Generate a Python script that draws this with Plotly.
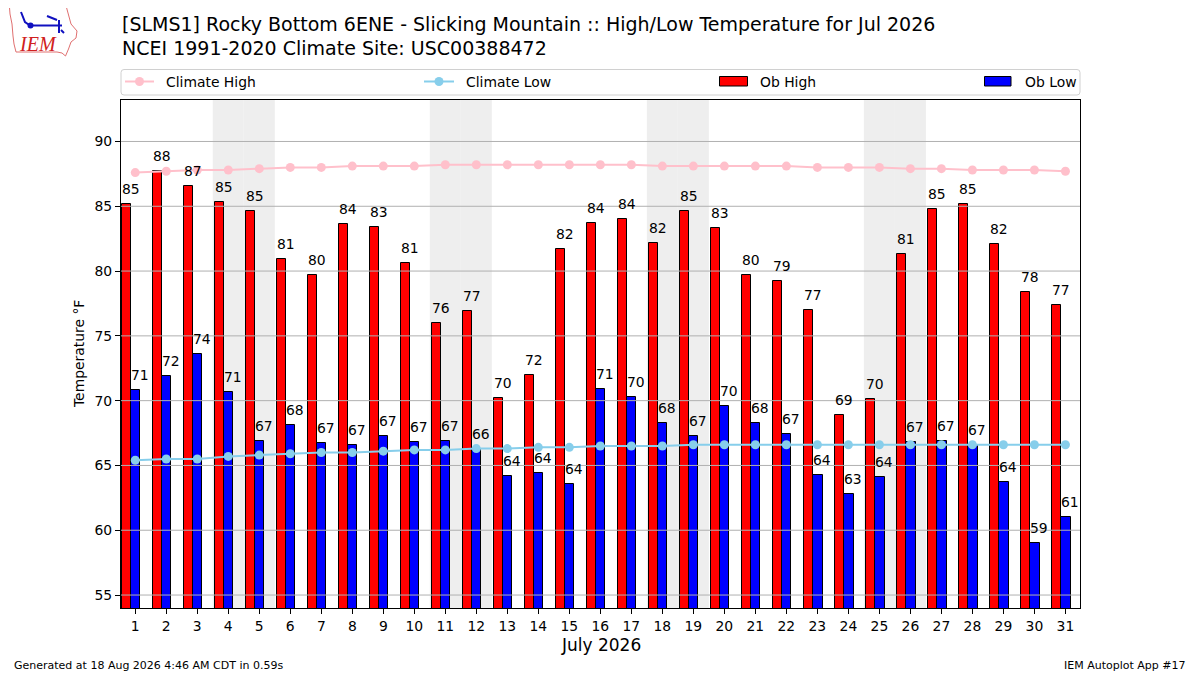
import plotly.graph_objects as go

# ---------------- data ----------------
days = list(range(1, 32))
ob_high = [85.2, 87.7, 86.6, 85.3, 84.6, 80.9, 79.7, 83.6, 83.4, 80.6,
           76.0, 76.9, 70.2, 72.0, 81.7, 83.7, 84.0, 82.2, 84.6, 83.3,
           79.7, 79.2, 77.0, 68.9, 70.1, 81.3, 84.8, 85.2, 82.1, 78.4, 77.4]
ob_low = [70.8, 71.9, 73.6, 70.7, 66.9, 68.1, 66.7, 66.6, 67.3, 66.8,
          66.9, 66.3, 64.2, 64.4, 63.6, 70.9, 70.3, 68.3, 67.3, 69.6,
          68.3, 67.4, 64.3, 62.8, 64.1, 66.8, 66.9, 66.6, 63.7, 59.0, 61.0]
clim_high = [87.6, 87.7, 87.8, 87.8, 87.9, 88.0, 88.0, 88.1, 88.1, 88.1,
             88.2, 88.2, 88.2, 88.2, 88.2, 88.2, 88.2, 88.1, 88.1, 88.1,
             88.1, 88.1, 88.0, 88.0, 88.0, 87.9, 87.9, 87.8, 87.8, 87.8, 87.7]
clim_low = [65.4, 65.5, 65.5, 65.7, 65.8, 65.9, 66.0, 66.0, 66.1, 66.2,
            66.2, 66.3, 66.3, 66.4, 66.4, 66.5, 66.5, 66.5, 66.6, 66.6,
            66.6, 66.6, 66.6, 66.6, 66.6, 66.6, 66.6, 66.6, 66.6, 66.6, 66.6]
weekend_days = [4, 5, 11, 12, 18, 19, 25, 26]
y_ticks = [55, 60, 65, 70, 75, 80, 85, 90]

title1 = "[SLMS1] Rocky Bottom 6ENE - Slicking Mountain :: High/Low Temperature for Jul 2026"
title2 = "NCEI 1991-2020 Climate Site: USC00388472"
xlabel = "July 2026"
ylabel = "Temperature °F"
footer_left = "Generated at 18 Aug 2026 4:46 AM CDT in 0.59s"
footer_right = "IEM Autoplot App #17"

# ---------------- layout geometry ----------------
# the page body has an 8px margin, so the figure is shifted by that amount
OFF = 8
WIDTH, HEIGHT = 1200 - OFF, 675 - OFF
# plot area in screen (reference) pixels
L, R, T, B = 121, 1080, 100, 608
PW, PH = R - L, B - T
FONT = "DejaVu Sans"
FS = 13.9


def px(x):
    return (x - L) / PW


def py(y):
    return (B - y) / PH


fig = go.Figure()

BW = 0.3
fig.add_trace(go.Bar(x=[d - 0.285 for d in days], y=ob_high, width=BW,
                     marker=dict(color="#ff0000", line=dict(color="black", width=1)),
                     name="Ob High", showlegend=False))
fig.add_trace(go.Bar(x=[d + 0.015 for d in days], y=ob_low, width=BW,
                     marker=dict(color="#0000ff", line=dict(color="black", width=1)),
                     name="Ob Low", showlegend=False))
fig.add_trace(go.Scatter(x=days, y=clim_high, mode="lines+markers",
                         line=dict(color="pink", width=2),
                         marker=dict(color="pink", size=9),
                         name="Climate High", showlegend=False))
fig.add_trace(go.Scatter(x=days, y=clim_low, mode="lines+markers",
                         line=dict(color="skyblue", width=2),
                         marker=dict(color="skyblue", size=9),
                         name="Climate Low", showlegend=False))

shapes = []
annotations = []

# weekend shading
for d in weekend_days:
    shapes.append(dict(type="rect", xref="x", yref="paper", x0=d - 0.5, x1=d + 0.5,
                       y0=0, y1=1, fillcolor="#eeeeee", line=dict(width=0), layer="below"))
# gridlines above bars
for t in y_ticks:
    shapes.append(dict(type="line", xref="paper", yref="y", x0=0, x1=1, y0=t, y1=t,
                       line=dict(color="#b0b0b0", width=1), layer="above"))

# bar value labels
for d, v in zip(days, ob_high):
    annotations.append(dict(x=d - 0.14, y=v, xref="x", yref="y", text=f"{v:.0f}",
                            showarrow=False, yanchor="bottom", xanchor="center",
                            yshift=5, font=dict(family=FONT, size=FS, color="black")))
for d, v in zip(days, ob_low):
    annotations.append(dict(x=d + 0.16, y=v, xref="x", yref="y", text=f"{v:.0f}",
                            showarrow=False, yanchor="bottom", xanchor="center",
                            yshift=5, font=dict(family=FONT, size=FS, color="black")))

# titles
annotations.append(dict(x=px(120), y=py(24), xref="paper", yref="paper", text=title1,
                        showarrow=False, xanchor="left", yanchor="middle",
                        font=dict(family=FONT, size=19, color="black")))
annotations.append(dict(x=px(120), y=py(48), xref="paper", yref="paper", text=title2,
                        showarrow=False, xanchor="left", yanchor="middle",
                        font=dict(family=FONT, size=19, color="black")))
# axis titles
annotations.append(dict(x=px(600.5), y=py(645), xref="paper", yref="paper", text=xlabel,
                        showarrow=False, xanchor="center", yanchor="middle",
                        font=dict(family=FONT, size=17, color="black")))
annotations.append(dict(x=px(79), y=py(354), xref="paper", yref="paper", text=ylabel,
                        showarrow=False, xanchor="center", yanchor="middle", textangle=-90,
                        font=dict(family=FONT, size=FS, color="black")))
# footers
annotations.append(dict(x=px(12), y=py(665), xref="paper", yref="paper", text=footer_left,
                        showarrow=False, xanchor="left", yanchor="middle",
                        font=dict(family=FONT, size=11, color="black")))
annotations.append(dict(x=px(1188), y=py(665), xref="paper", yref="paper", text=footer_right,
                        showarrow=False, xanchor="right", yanchor="middle",
                        font=dict(family=FONT, size=11, color="black")))

# ---------------- manual expanded legend ----------------
lx0, lx1, ly0, ly1, r = 121, 1080, 69.5, 95, 3
rx, ry = r / PW, r / PH
path = (f"M {px(lx0)+rx},{py(ly0)} L {px(lx1)-rx},{py(ly0)} Q {px(lx1)},{py(ly0)} {px(lx1)},{py(ly0)-ry} "
        f"L {px(lx1)},{py(ly1)+ry} Q {px(lx1)},{py(ly1)} {px(lx1)-rx},{py(ly1)} "
        f"L {px(lx0)+rx},{py(ly1)} Q {px(lx0)},{py(ly1)} {px(lx0)},{py(ly1)+ry} "
        f"L {px(lx0)},{py(ly0)-ry} Q {px(lx0)},{py(ly0)} {px(lx0)+rx},{py(ly0)} Z")
shapes.append(dict(type="path", xref="paper", yref="paper", path=path,
                   fillcolor="white", line=dict(color="#d0d0d0", width=1), layer="above"))
ly = 81.5
legend_lines = [("Climate High", "pink", 125, 154, 164), ("Climate Low", "skyblue", 424, 454, 464)]
for name, col, x0, x1, tx in legend_lines:
    shapes.append(dict(type="line", xref="paper", yref="paper", x0=px(x0), x1=px(x1),
                       y0=py(ly), y1=py(ly), line=dict(color=col, width=2), layer="above"))
    cx = (x0 + x1) / 2
    shapes.append(dict(type="circle", xref="paper", yref="paper",
                       x0=px(cx - 4.5), x1=px(cx + 4.5), y0=py(ly + 4.5), y1=py(ly - 4.5),
                       fillcolor=col, line=dict(color=col, width=0), layer="above"))
    annotations.append(dict(x=px(tx), y=py(ly), xref="paper", yref="paper", text=name,
                            showarrow=False, xanchor="left", yanchor="middle",
                            font=dict(family=FONT, size=FS, color="black")))
legend_patches = [("Ob High", "#ff0000", 719.5, 747.5, 758), ("Ob Low", "#0000ff", 984.5, 1011, 1022.5)]
for name, col, x0, x1, tx in legend_patches:
    shapes.append(dict(type="rect", xref="paper", yref="paper", x0=px(x0), x1=px(x1),
                       y0=py(86), y1=py(76.5), fillcolor=col,
                       line=dict(color="black", width=1), layer="above"))
    annotations.append(dict(x=px(tx), y=py(ly), xref="paper", yref="paper", text=name,
                            showarrow=False, xanchor="left", yanchor="middle",
                            font=dict(family=FONT, size=FS, color="black")))

# ---------------- IEM logo (approximation) ----------------
iowa = [(9.5, 7.5), (66.5, 7.5), (68, 13), (71, 24), (77, 31), (76, 38), (71, 42),
        (68.5, 49), (65.5, 56), (62, 53), (57, 52), (16, 52), (14, 44), (13, 36),
        (12, 24), (10, 14)]
p = "M " + " L ".join(f"{px(a)},{py(b)}" for a, b in iowa) + " Z"
shapes.append(dict(type="path", xref="paper", yref="paper", path=p,
                   line=dict(color="#e07070", width=1), layer="above"))
blue_segs = [[(30, 25.5), (62, 25.5)], [(59, 20), (59, 33)], [(47, 16), (57, 20)],
             [(21, 12), (25, 22), (30, 25.5)], [(61, 30), (64, 33)]]
for seg in blue_segs:
    p = "M " + " L ".join(f"{px(a)},{py(b)}" for a, b in seg)
    shapes.append(dict(type="path", xref="paper", yref="paper", path=p,
                       line=dict(color="#1010c0", width=2), layer="above"))
shapes.append(dict(type="circle", xref="paper", yref="paper", x0=px(27.5), x1=px(33.5),
                   y0=py(28.5), y1=py(22.5), fillcolor="#1010c0",
                   line=dict(color="#1010c0", width=0), layer="above"))
annotations.append(dict(x=px(38), y=py(44), xref="paper", yref="paper", text="<i>IEM</i>",
                        showarrow=False, xanchor="center", yanchor="middle",
                        font=dict(family="Liberation Serif", size=20, color="#d02020")))

fig.update_layout(
    width=WIDTH, height=HEIGHT,
    margin=dict(l=L - OFF, r=1200 - R, t=T - OFF, b=675 - B, autoexpand=False),
    paper_bgcolor="white", plot_bgcolor="white",
    barmode="overlay", bargap=0,
    showlegend=False,
    shapes=shapes, annotations=annotations,
    font=dict(family=FONT, size=FS, color="black"),
    xaxis=dict(range=[0.54, 31.47], tickmode="array", tickvals=days,
               ticktext=[str(d) for d in days], showgrid=False, zeroline=False,
               ticks="outside", ticklen=5, tickcolor="black", showline=True,
               linecolor="black", linewidth=1, mirror=True,
               tickfont=dict(family=FONT, size=FS, color="black")),
    yaxis=dict(range=[54.0, 93.2], tickmode="array", tickvals=y_ticks,
               showgrid=False, zeroline=False,
               ticks="outside", ticklen=5, tickcolor="black", showline=True,
               linecolor="black", linewidth=1, mirror=True,
               tickfont=dict(family=FONT, size=FS, color="black")),
)

fig.write_html("out.html")
